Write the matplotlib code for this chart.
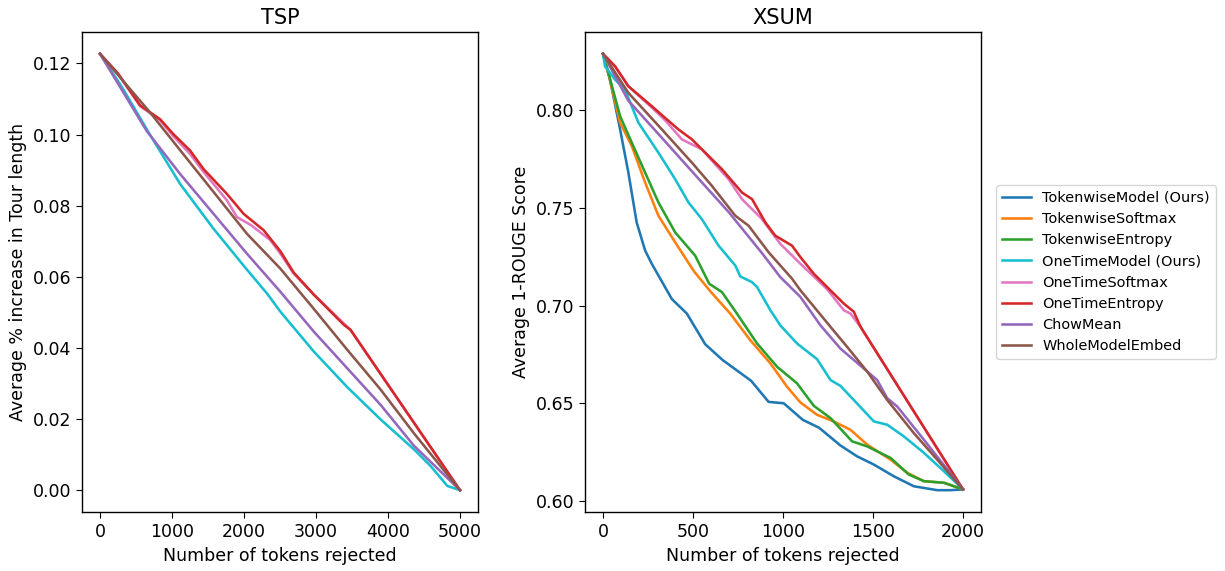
import matplotlib.pyplot as plt

plt.rcParams["font.size"] = 12.5
plt.rcParams["lines.linewidth"] = 1.85
plt.rcParams["axes.linewidth"] = 1.0
plt.rcParams["xtick.major.size"] = 4.4
plt.rcParams["ytick.major.size"] = 4.4

# ---- TSP (tokens rejected, avg % increase in tour length) ----
tsp_cyan_x = [0, 300, 696, 1113, 1577, 2041, 2320, 2505, 2969, 3433, 3897, 4360, 4592, 4824, 5000]
tsp_cyan_y = [0.1227, 0.1135, 0.0999, 0.0861, 0.0735, 0.0620, 0.0553, 0.0502, 0.0390, 0.0290, 0.0199, 0.0115, 0.0068, 0.0012, 0.0]

tsp_pink_x = [0, 250, 557, 835, 1020, 1252, 1438, 1763, 1902, 2100, 2366, 2505, 2690, 2969, 3479, 5000]
tsp_pink_y = [0.1227, 0.1170, 0.1080, 0.1040, 0.0995, 0.0945, 0.0895, 0.0815, 0.0768, 0.0745, 0.0703, 0.0665, 0.0609, 0.0550, 0.0451, 0.0]

tsp_red_x = [0, 250, 557, 835, 1020, 1252, 1438, 1763, 1995, 2273, 2505, 2690, 2969, 3386, 3479, 5000]
tsp_red_y = [0.1227, 0.1172, 0.1082, 0.1043, 0.1001, 0.0955, 0.0903, 0.0833, 0.0777, 0.0731, 0.0672, 0.0612, 0.0550, 0.0465, 0.0451, 0.0]

tsp_purple_x = [0, 649, 1113, 1577, 2041, 2505, 2969, 3433, 3897, 4360, 5000]
tsp_purple_y = [0.1227, 0.1010, 0.0889, 0.0777, 0.0665, 0.0558, 0.0446, 0.0343, 0.0240, 0.0125, 0.0]

tsp_brown_x = [0, 696, 1113, 1485, 2041, 2505, 2969, 3433, 3897, 4360, 5000]
tsp_brown_y = [0.1227, 0.1062, 0.0956, 0.0862, 0.0721, 0.0623, 0.0510, 0.0395, 0.0283, 0.0160, 0.0]

# ---- XSUM (tokens rejected, avg 1-ROUGE) ----
xs_blue_x = [0, 39, 95, 141, 187, 234, 271, 382, 466, 568, 665, 823, 920, 1004, 1110, 1200, 1319, 1412, 1505, 1616, 1727, 1857, 1931, 2000]
xs_blue_y = [0.829, 0.8158, 0.7903, 0.7682, 0.7427, 0.7283, 0.7215, 0.7035, 0.6960, 0.6803, 0.6722, 0.6616, 0.6508, 0.6501, 0.6416, 0.6376, 0.6285, 0.6229, 0.6187, 0.6127, 0.6076, 0.6056, 0.6056, 0.606]

xs_orange_x = [0, 20, 95, 160, 234, 308, 401, 505, 600, 707, 818, 930, 1022, 1097, 1189, 1282, 1375, 1468, 1598, 1690, 1783, 1894, 2000]
xs_orange_y = [0.829, 0.8226, 0.7937, 0.7818, 0.7631, 0.7461, 0.7325, 0.7177, 0.7070, 0.6960, 0.6824, 0.6705, 0.6586, 0.6505, 0.6442, 0.6408, 0.6365, 0.6289, 0.6212, 0.6145, 0.6102, 0.6094, 0.606]

xs_green_x = [0, 30, 95, 160, 234, 308, 401, 512, 590, 661, 744, 856, 967, 1078, 1171, 1264, 1384, 1468, 1598, 1699, 1783, 1894, 2000]
xs_green_y = [0.829, 0.8192, 0.7971, 0.7835, 0.7682, 0.7529, 0.7376, 0.7257, 0.7113, 0.7070, 0.6960, 0.6807, 0.6688, 0.6603, 0.6488, 0.6425, 0.6306, 0.6280, 0.6221, 0.6136, 0.6102, 0.6094, 0.606]

xs_cyan_x = [0, 11, 67, 122, 197, 308, 401, 475, 549, 642, 735, 763, 828, 856, 930, 985, 1078, 1189, 1264, 1319, 1393, 1505, 1579, 1672, 1783, 1894, 2000]
xs_cyan_y = [0.829, 0.8226, 0.8158, 0.8107, 0.7937, 0.7784, 0.7648, 0.7529, 0.7444, 0.7308, 0.7206, 0.7150, 0.7121, 0.7096, 0.6977, 0.6900, 0.6807, 0.6727, 0.6620, 0.6590, 0.6518, 0.6408, 0.6391, 0.6331, 0.6247, 0.6153, 0.606]

xs_pink_x = [0, 67, 141, 271, 345, 438, 549, 698, 772, 883, 985, 1097, 1171, 1245, 1338, 1375, 1431, 2000]
xs_pink_y = [0.829, 0.8226, 0.8124, 0.8015, 0.7950, 0.7852, 0.7801, 0.7648, 0.7546, 0.7444, 0.7317, 0.7215, 0.7150, 0.7085, 0.6977, 0.6960, 0.6892, 0.606]

xs_red_x = [0, 67, 141, 271, 345, 419, 494, 568, 661, 772, 828, 902, 957, 1050, 1097, 1171, 1245, 1338, 1393, 1431, 2000]
xs_red_y = [0.829, 0.8226, 0.8124, 0.8022, 0.7962, 0.7903, 0.7852, 0.7784, 0.7699, 0.7580, 0.7546, 0.7427, 0.7359, 0.7308, 0.7249, 0.7164, 0.7096, 0.7011, 0.6970, 0.6892, 0.606]

xs_purple_x = [0, 141, 327, 512, 698, 883, 985, 1097, 1208, 1319, 1431, 1523, 1579, 1635, 1783, 2000]
xs_purple_y = [0.829, 0.8050, 0.7860, 0.7670, 0.7480, 0.7270, 0.7147, 0.7045, 0.6900, 0.6781, 0.6693, 0.6620, 0.6527, 0.6484, 0.6314, 0.606]

xs_brown_x = [0, 141, 327, 494, 605, 735, 809, 920, 1050, 1097, 1264, 1356, 1468, 1579, 1727, 1857, 2000]
xs_brown_y = [0.829, 0.809, 0.7903, 0.7733, 0.7614, 0.7461, 0.7410, 0.7274, 0.7139, 0.7079, 0.6892, 0.6790, 0.6663, 0.6518, 0.6348, 0.6212, 0.606]

fig = plt.figure(figsize=(12.25, 5.71), dpi=100)
ax1 = fig.add_axes([82 / 1225, 1 - 512 / 571, (478 - 82) / 1225, (512 - 32) / 571])
ax2 = fig.add_axes([585 / 1225, 1 - 512 / 571, (981 - 585) / 1225, (512 - 32) / 571])

# TSP
ax1.plot(tsp_cyan_x, tsp_cyan_y, color="tab:cyan")
ax1.plot(tsp_pink_x, tsp_pink_y, color="tab:pink")
ax1.plot(tsp_red_x, tsp_red_y, color="tab:red")
ax1.plot(tsp_purple_x, tsp_purple_y, color="tab:purple")
ax1.plot(tsp_brown_x, tsp_brown_y, color="tab:brown")
ax1.set_title("TSP")
ax1.set_xlabel("Number of tokens rejected")
ax1.set_ylabel("Average % increase in Tour length")

# XSUM
ax2.plot(xs_blue_x, xs_blue_y, color="tab:blue", label="TokenwiseModel (Ours)")
ax2.plot(xs_orange_x, xs_orange_y, color="tab:orange", label="TokenwiseSoftmax")
ax2.plot(xs_green_x, xs_green_y, color="tab:green", label="TokenwiseEntropy")
ax2.plot(xs_cyan_x, xs_cyan_y, color="tab:cyan", label="OneTimeModel (Ours)")
ax2.plot(xs_pink_x, xs_pink_y, color="tab:pink", label="OneTimeSoftmax")
ax2.plot(xs_red_x, xs_red_y, color="tab:red", label="OneTimeEntropy")
ax2.plot(xs_purple_x, xs_purple_y, color="tab:purple", label="ChowMean")
ax2.plot(xs_brown_x, xs_brown_y, color="tab:brown", label="WholeModelEmbed")
ax2.set_title("XSUM")
ax2.set_xlabel("Number of tokens rejected")
ax2.set_ylabel("Average 1-ROUGE Score")
ax2.set_xticks([0, 500, 1000, 1500, 2000])
ax2.legend(loc="center left", bbox_to_anchor=(1.02, 0.5), fontsize="small")

fig.savefig("out.png", dpi=100)
